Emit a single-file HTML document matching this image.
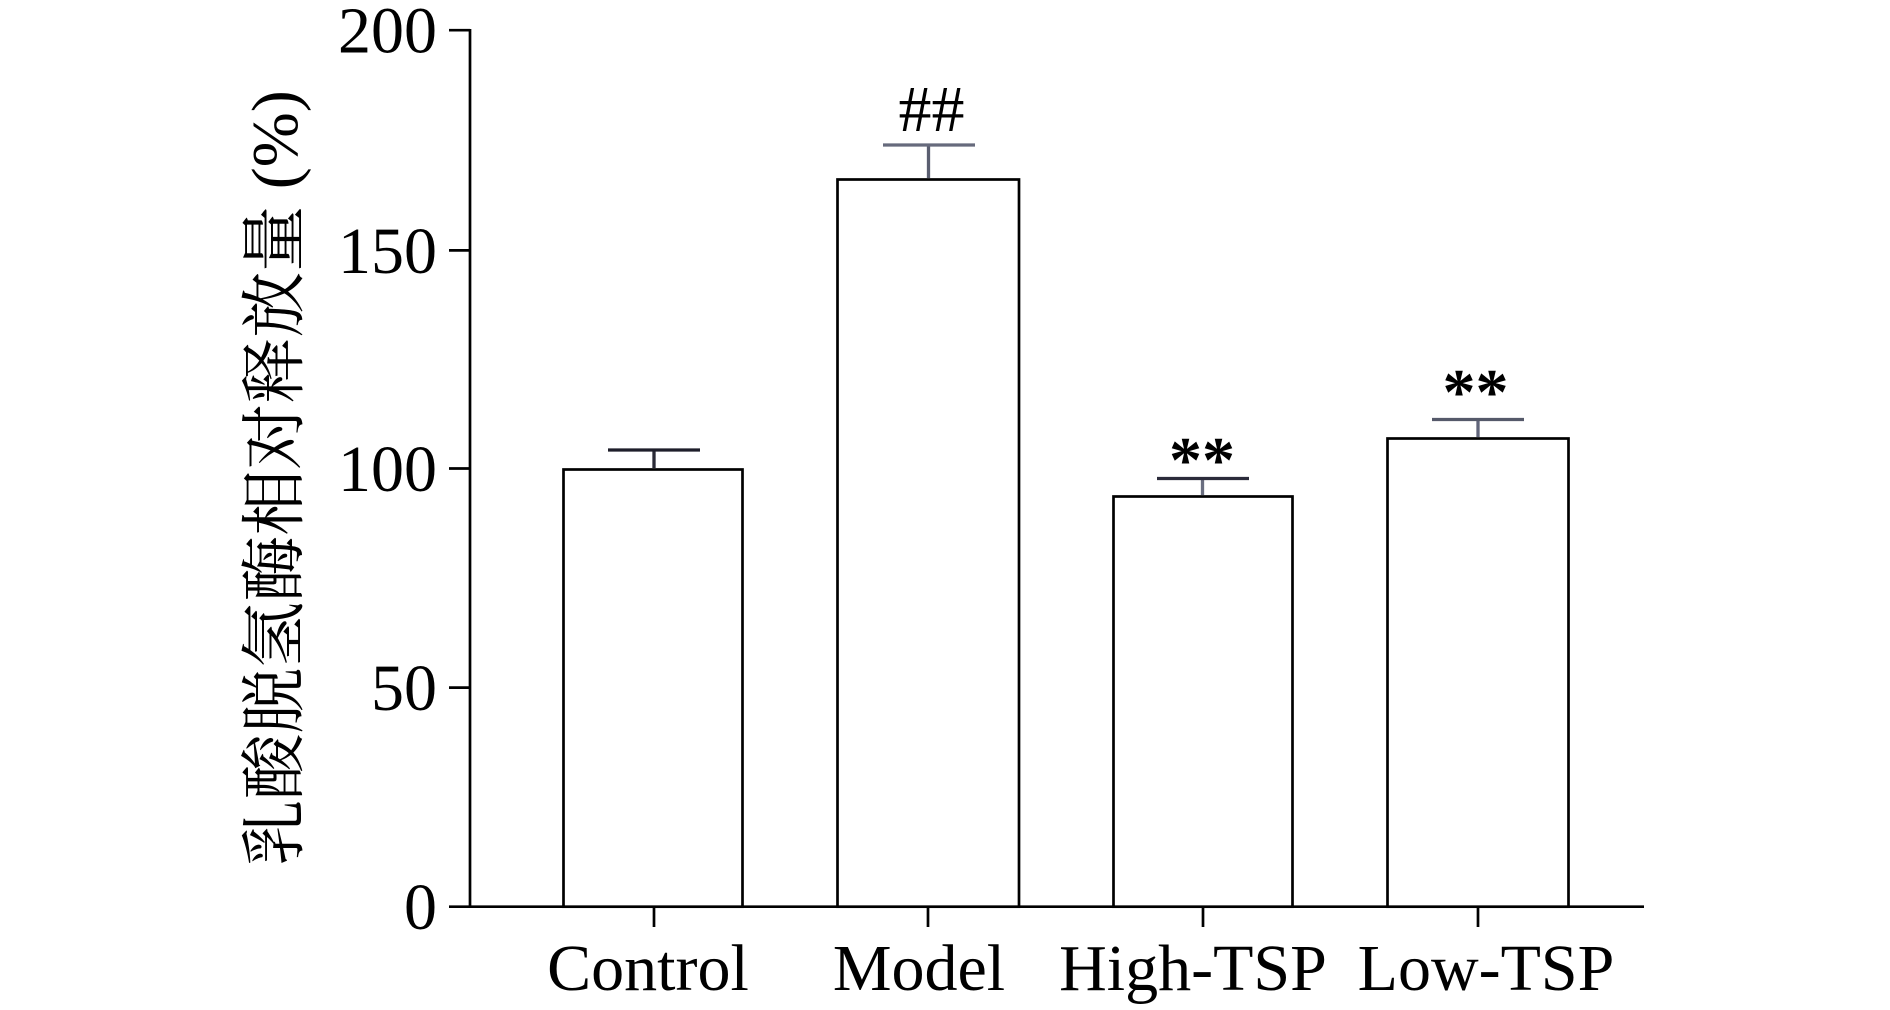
<!DOCTYPE html>
<html><head><meta charset="utf-8"><style>
html,body{margin:0;padding:0;background:#fff;}
svg{display:block;}
</style></head><body>
<svg width="1890" height="1010" viewBox="0 0 1890 1010" xmlns="http://www.w3.org/2000/svg">
<rect width="1890" height="1010" fill="#fff"/>
<g stroke="#000" stroke-width="2.7" fill="none">
  <!-- y axis -->
  <line x1="470" y1="29" x2="470" y2="908"/>
  <!-- y ticks -->
  <line x1="449" y1="30.2" x2="470" y2="30.2"/>
  <line x1="449" y1="250.4" x2="470" y2="250.4"/>
  <line x1="449" y1="468.5" x2="470" y2="468.5"/>
  <line x1="449" y1="687.6" x2="470" y2="687.6"/>
  <!-- x axis -->
  <line x1="449" y1="906.7" x2="1644" y2="906.7"/>
  <!-- x ticks -->
  <line x1="654" y1="906.7" x2="654" y2="927"/>
  <line x1="928" y1="906.7" x2="928" y2="927"/>
  <line x1="1203" y1="906.7" x2="1203" y2="927"/>
  <line x1="1478" y1="906.7" x2="1478" y2="927"/>
  <!-- bars -->
  <rect x="563.5" y="469.5" width="179" height="437.2" fill="#fff"/>
  <rect x="837.5" y="179.5" width="181.5" height="727.2" fill="#fff"/>
  <rect x="1113.5" y="496.5" width="179" height="410.2" fill="#fff"/>
  <rect x="1387.5" y="438.5" width="181" height="468.2" fill="#fff"/>
</g>
<!-- error bars -->
<g stroke-width="3.3" fill="none">
  <line x1="654" y1="450" x2="654" y2="468" stroke="#2a2a36"/>
  <line x1="608" y1="450" x2="700" y2="450" stroke="#1e1e2a"/>
  <line x1="928.5" y1="145" x2="928.5" y2="178" stroke="#5a5e70"/>
  <line x1="883" y1="145" x2="975" y2="145" stroke="#666a7c"/>
  <line x1="1202.5" y1="478" x2="1202.5" y2="495" stroke="#6a6e80"/>
  <line x1="1157" y1="478.5" x2="1249" y2="478.5" stroke="#2b2b3a"/>
  <line x1="1478" y1="419.5" x2="1478" y2="437" stroke="#60647a"/>
  <line x1="1432" y1="419.5" x2="1524" y2="419.5" stroke="#55596a"/>
</g>
<!-- annotations -->
<g font-family="'Liberation Serif', serif" font-size="66" fill="#000" text-anchor="middle">
  <text x="931.5" y="131">##</text>
  <text x="1202" y="482" font-weight="bold">**</text>
  <text x="1475.5" y="414" font-weight="bold">**</text>
</g>
<!-- y tick labels -->
<g font-family="'Liberation Serif', serif" font-size="66" fill="#000" text-anchor="end">
  <text x="437" y="52.5">200</text>
  <text x="437" y="273">150</text>
  <text x="437" y="491">100</text>
  <text x="437" y="710">50</text>
  <text x="437" y="929">0</text>
</g>
<!-- x labels -->
<g font-family="'Liberation Serif', serif" font-size="66" fill="#000" text-anchor="middle">
  <text x="648" y="990">Control</text>
  <text x="919" y="990">Model</text>
  <text x="1193" y="990">High-TSP</text>
  <text x="1486" y="990">Low-TSP</text>
</g>
<!-- y axis title -->
<text transform="translate(297,478) rotate(-90)" text-anchor="middle" font-family="'Liberation Serif', 'Noto Serif CJK SC', serif" font-size="66" fill="#000">乳酸脱氢酶相对释放量 (%)</text>
</svg>
</body></html>
